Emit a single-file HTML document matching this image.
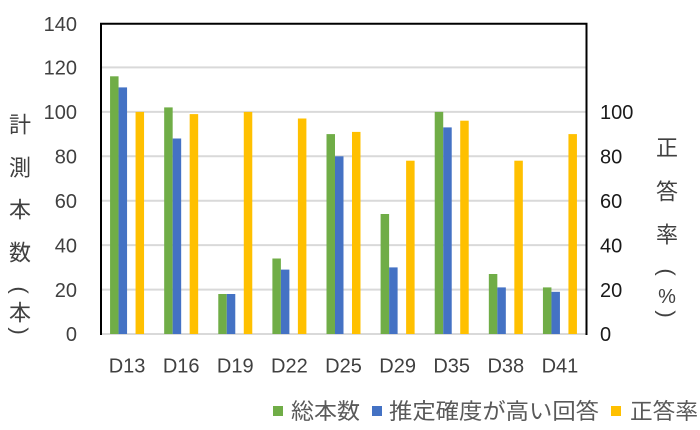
<!DOCTYPE html>
<html>
<head>
<meta charset="utf-8">
<style>
  html,body{margin:0;padding:0;background:#fff;}
  svg{display:block;}
  .t{font-family:"Liberation Sans","Noto Sans CJK JP",sans-serif;}
</style>
</head>
<body>
<svg width="700" height="430" viewBox="0 0 700 430" xmlns="http://www.w3.org/2000/svg">
  <rect x="0" y="0" width="700" height="430" fill="#fff"/>
  <!-- gridlines -->
  <g stroke="#d9d9d9" stroke-width="2">
    <line x1="101" y1="67.4" x2="586" y2="67.4"/>
    <line x1="101" y1="111.9" x2="586" y2="111.9"/>
    <line x1="101" y1="156.3" x2="586" y2="156.3"/>
    <line x1="101" y1="200.7" x2="586" y2="200.7"/>
    <line x1="101" y1="245.1" x2="586" y2="245.1"/>
    <line x1="101" y1="289.6" x2="586" y2="289.6"/>
    <line x1="101" y1="334" x2="586" y2="334"/>
  </g>
  <!-- green bars -->
  <g fill="#70ad47">
    <rect x="110.06" y="76.3" width="8.5" height="257.7"/>
    <rect x="164.17" y="107.4" width="8.5" height="226.6"/>
    <rect x="218.28" y="294.0" width="8.5" height="40"/>
    <rect x="272.39" y="258.5" width="8.5" height="75.5"/>
    <rect x="326.5" y="134.1" width="8.5" height="199.9"/>
    <rect x="380.61" y="214.0" width="8.5" height="120"/>
    <rect x="434.72" y="111.9" width="8.5" height="222.1"/>
    <rect x="488.83" y="274.0" width="8.5" height="60"/>
    <rect x="542.94" y="287.4" width="8.5" height="46.6"/>
  </g>
  <!-- blue bars -->
  <g fill="#4472c4">
    <rect x="118.56" y="87.4" width="8.5" height="246.6"/>
    <rect x="172.67" y="138.5" width="8.5" height="195.5"/>
    <rect x="226.78" y="294.0" width="8.5" height="40"/>
    <rect x="280.89" y="269.6" width="8.5" height="64.4"/>
    <rect x="335.0" y="156.3" width="8.5" height="177.7"/>
    <rect x="389.11" y="267.4" width="8.5" height="66.6"/>
    <rect x="443.22" y="127.4" width="8.5" height="206.6"/>
    <rect x="497.33" y="287.4" width="8.5" height="46.6"/>
    <rect x="551.44" y="291.8" width="8.5" height="42.2"/>
  </g>
  <!-- yellow bars -->
  <g fill="#ffc000">
    <rect x="135.56" y="111.9" width="8.5" height="222.1"/>
    <rect x="189.67" y="114.1" width="8.5" height="219.9"/>
    <rect x="243.78" y="111.9" width="8.5" height="222.1"/>
    <rect x="297.89" y="118.5" width="8.5" height="215.5"/>
    <rect x="352.0" y="131.9" width="8.5" height="202.1"/>
    <rect x="406.11" y="160.7" width="8.5" height="173.3"/>
    <rect x="460.22" y="120.7" width="8.5" height="213.3"/>
    <rect x="514.33" y="160.7" width="8.5" height="173.3"/>
    <rect x="568.44" y="134.1" width="8.5" height="199.9"/>
  </g>
  <!-- plot border -->
  <polyline points="101,335 101,23.8 586.5,23.8 586.5,335" fill="none" stroke="#000" stroke-width="2"/>

  <!-- left tick labels -->
  <g class="t" font-size="20" fill="#404040" text-anchor="end">
    <text x="77" y="31.2">140</text>
    <text x="77" y="74.6">120</text>
    <text x="77" y="119.1">100</text>
    <text x="77" y="163.5">80</text>
    <text x="77" y="207.9">60</text>
    <text x="77" y="252.3">40</text>
    <text x="77" y="296.8">20</text>
    <text x="77" y="341.2">0</text>
  </g>
  <!-- right tick labels -->
  <g class="t" font-size="20" fill="#1a1a1a" text-anchor="start">
    <text x="600" y="119.1">100</text>
    <text x="600" y="163.5">80</text>
    <text x="600" y="207.9">60</text>
    <text x="600" y="252.3">40</text>
    <text x="600" y="296.8">20</text>
    <text x="600" y="341.2">0</text>
  </g>
  <!-- x labels -->
  <g class="t" font-size="20" fill="#404040" text-anchor="middle">
    <text x="127.06" y="372.7">D13</text>
    <text x="181.17" y="372.7">D16</text>
    <text x="235.28" y="372.7">D19</text>
    <text x="289.39" y="372.7">D22</text>
    <text x="343.5" y="372.7">D25</text>
    <text x="397.61" y="372.7">D29</text>
    <text x="451.72" y="372.7">D35</text>
    <text x="505.83" y="372.7">D38</text>
    <text x="559.94" y="372.7">D41</text>
  </g>

  <!-- left axis title -->
  <g class="t" font-size="22" fill="#404040" text-anchor="middle" dominant-baseline="central">
    <text x="20" y="125">計</text>
    <text x="20" y="168">測</text>
    <text x="20" y="210">本</text>
    <text x="20" y="253">数</text>
    <text transform="translate(20,290) rotate(90)">(</text>
    <text x="20" y="313">本</text>
    <text transform="translate(20,331) rotate(90)">)</text>
  </g>
  <!-- right axis title -->
  <g class="t" font-size="22" fill="#404040" text-anchor="middle" dominant-baseline="central">
    <text x="667" y="148">正</text>
    <text x="667" y="192">答</text>
    <text x="667" y="235">率</text>
    <text transform="translate(667,272) rotate(90)">(</text>
    <text x="667" y="297" font-size="20">%</text>
    <text transform="translate(667,314) rotate(90)">)</text>
  </g>

  <!-- legend -->
  <rect x="273" y="406" width="10" height="10" fill="#70ad47"/>
  <rect x="372" y="406" width="10" height="10" fill="#4472c4"/>
  <rect x="611" y="406" width="10" height="10" fill="#ffc000"/>
  <g class="t" font-size="22" fill="#595959">
    <text x="291" y="419" textLength="69" lengthAdjust="spacingAndGlyphs">総本数</text>
    <text x="389" y="419" textLength="210" lengthAdjust="spacingAndGlyphs">推定確度が高い回答</text>
    <text x="630" y="419" textLength="68" lengthAdjust="spacingAndGlyphs">正答率</text>
  </g>
</svg>
</body>
</html>
